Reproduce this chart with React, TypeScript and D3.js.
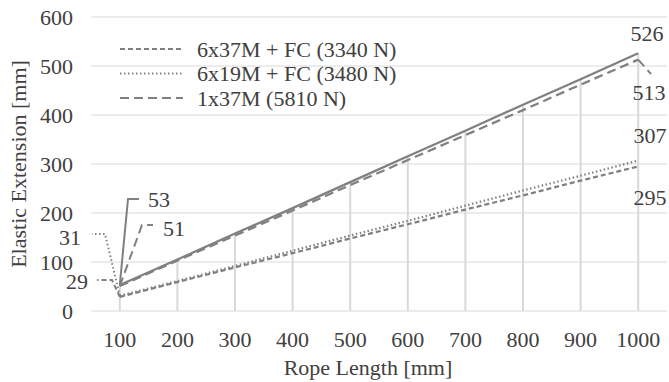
import * as d3 from 'd3';

const ropeLengths = [100, 200, 300, 400, 500, 600, 700, 800, 900, 1000];

// elastic extension [mm]
const solidSeries = [53, 105, 158, 210, 263, 316, 368, 421, 473, 526];
const rope1x37 = [51, 103, 154, 205, 257, 308, 359, 410, 462, 513];
const rope6x19 = [31, 61, 92, 123, 154, 184, 215, 246, 276, 307];
const rope6x37 = [29, 59, 89, 118, 148, 177, 207, 236, 266, 295];

const legendNames = ['6x37M + FC (3340 N)', '6x19M + FC (3480 N)', '1x37M (5810 N)'];
const yTicks = [0, 100, 200, 300, 400, 500, 600];

const W = 669;
const H = 382;
const FONT = 'Liberation Serif';
const FS = 22;
const LINE = '#808080';
const GRID = '#d9d9d9';
const TXT = '#404040';

const x = d3.scaleLinear().domain([50, 1050]).range([91, 667]);
const y = d3.scaleLinear().domain([0, 600]).range([311, 17]);

const series = [
  { key: 'solid', values: solidSeries, dash: undefined as string | undefined },
  { key: '1x37', values: rope1x37, dash: '9,5' },
  { key: '6x19', values: rope6x19, dash: '1.5,2.5' },
  { key: '6x37', values: rope6x37, dash: '5,3' },
];

const line = d3
  .line<number>()
  .x((_, i) => x(ropeLengths[i]))
  .y(d => y(d));

function Label(props: { x: number; y: number; anchor?: string; children: any; transform?: string }) {
  return (
    <text x={props.x} y={props.y} dy="0.35em" textAnchor={props.anchor || 'start'} transform={props.transform}
      fontFamily={FONT} fontSize={FS} fill={TXT}>
      {props.children}
    </text>
  );
}

export default function App() {
  const last = ropeLengths.length - 1;
  const dropTops = ropeLengths.map((_, i) => d3.max(series, s => s.values[i])!);
  const legendDash = [rope6x37, rope6x19, rope1x37].map(v => series.find(s => s.values === v)!.dash);

  const x0 = x(ropeLengths[0]);
  const xe = x(ropeLengths[last]);

  return (
    <svg width={W} height={H} style={{ position: 'absolute', left: 0, top: 0, background: '#fff' }}>
      {/* horizontal gridlines */}
      {yTicks.map(t => (
        <line key={t} x1={x(50)} x2={x(1050)} y1={y(t)} y2={y(t)} stroke={GRID} strokeWidth={1} />
      ))}
      {/* drop lines */}
      {ropeLengths.map((r, i) => (
        <line key={r} x1={x(r)} x2={x(r)} y1={y(0)} y2={y(dropTops[i])} stroke={GRID} strokeWidth={2} />
      ))}

      {series.map(s => (
        <path key={s.key} d={line(s.values)!} fill="none" stroke={LINE} strokeWidth={2.25}
          strokeDasharray={s.dash} />
      ))}

      {/* leader lines for the end labels */}
      <polyline points={`${x0},${y(solidSeries[0])} 128,199 139,199`} fill="none" stroke={LINE} strokeWidth={2} />
      <polyline points={`${x0},${y(rope1x37[0])} 142,225 153,225`} fill="none" stroke={LINE} strokeWidth={2} strokeDasharray="9,5" />
      <polyline points={`${x0},${y(rope6x19[0])} 105,234 92,234`} fill="none" stroke={LINE} strokeWidth={2} strokeDasharray="1.5,2.5" />
      <polyline points={`${x0},${y(rope6x37[0])} 112,280 97,280`} fill="none" stroke={LINE} strokeWidth={2} strokeDasharray="5,3" />
      <polyline points={`${xe},${y(rope1x37[last])} 651,74`} fill="none" stroke={LINE} strokeWidth={2} strokeDasharray="9,5" />

      {/* y tick labels */}
      {yTicks.map(t => (
        <Label key={t} x={73} y={y(t)} anchor="end">{t}</Label>
      ))}
      {/* x tick labels */}
      {ropeLengths.map(r => (
        <Label key={r} x={x(r)} y={339} anchor="middle">{r}</Label>
      ))}

      {/* data labels */}
      <Label x={148} y={199}>{solidSeries[0]}</Label>
      <Label x={163} y={228}>{rope1x37[0]}</Label>
      <Label x={81} y={237} anchor="end">{rope6x19[0]}</Label>
      <Label x={88} y={281} anchor="end">{rope6x37[0]}</Label>
      <Label x={647} y={33} anchor="middle">{solidSeries[last]}</Label>
      <Label x={649} y={92} anchor="middle">{rope1x37[last]}</Label>
      <Label x={650} y={135} anchor="middle">{rope6x19[last]}</Label>
      <Label x={650} y={197} anchor="middle">{rope6x37[last]}</Label>

      {/* legend */}
      {legendNames.map((name, i) => (
        <g key={name} transform={`translate(120,${49 + i * 24.5})`}>
          <line x1={0} x2={63} y1={0} y2={0} stroke={LINE} strokeWidth={2} strokeDasharray={legendDash[i]} />
          <Label x={77} y={0}>{name}</Label>
        </g>
      ))}

      {/* axis titles */}
      <Label x={368} y={367} anchor="middle">Rope Length [mm]</Label>
      <Label x={0} y={0} anchor="middle" transform="translate(18,164) rotate(-90)">Elastic Extension [mm]</Label>
    </svg>
  );
}
